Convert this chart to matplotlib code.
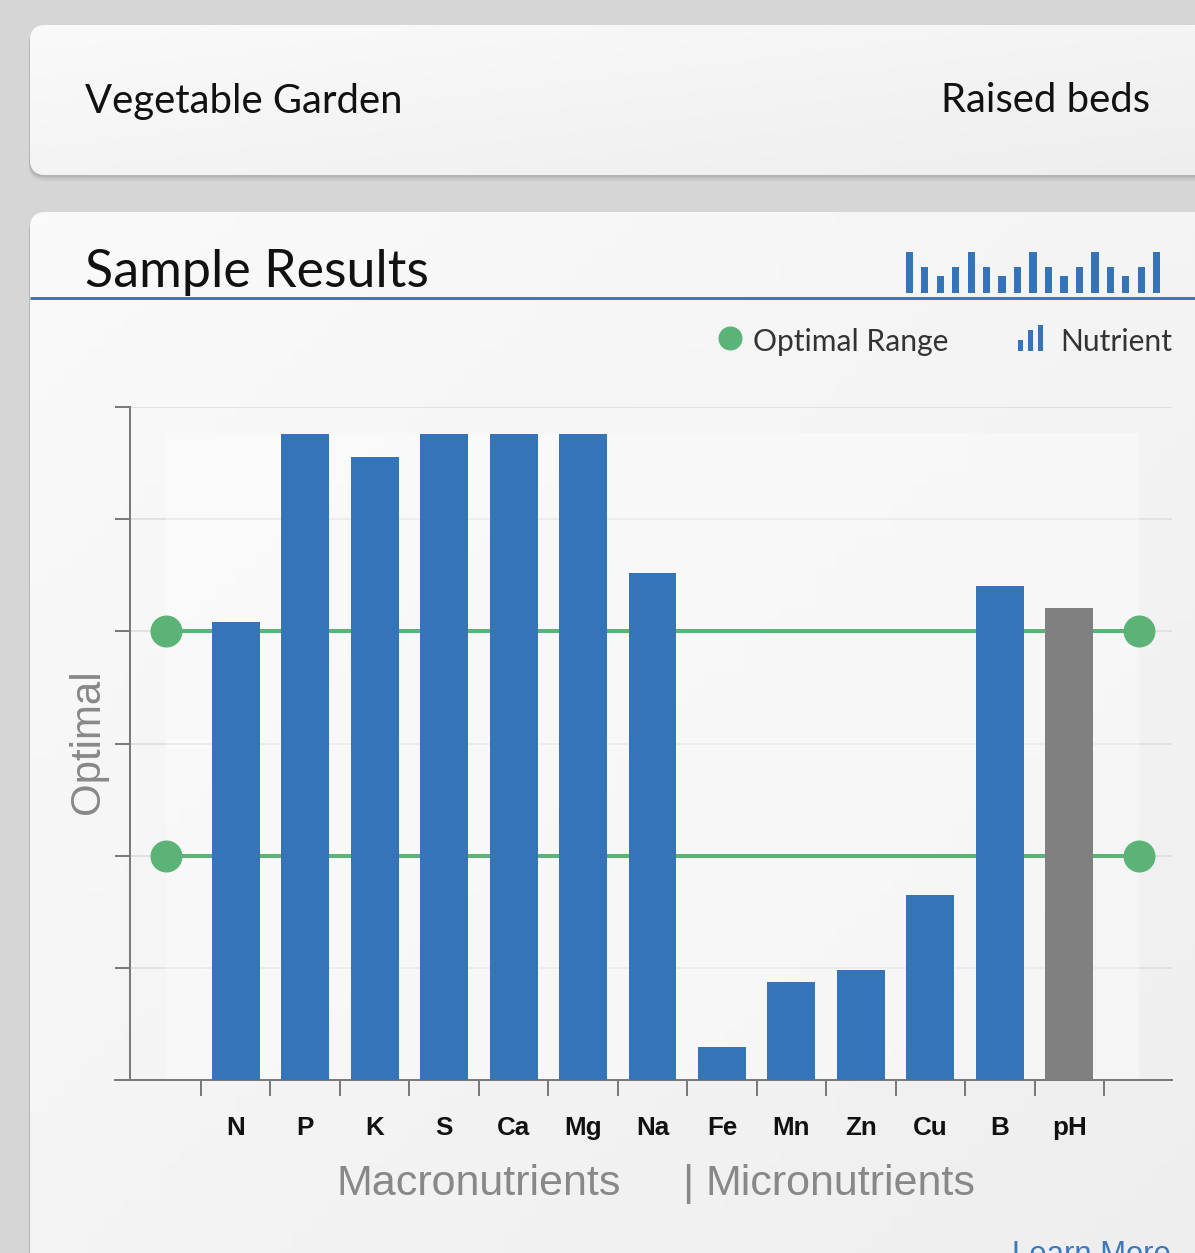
import numpy as np
import matplotlib.pyplot as plt
from matplotlib.patches import FancyBboxPatch, Rectangle
from matplotlib.colors import LinearSegmentedColormap

W, H = 1195, 1253

# data
nutrients = ['N', 'P', 'K', 'S', 'Ca', 'Mg', 'Na', 'Fe', 'Mn', 'Zn', 'Cu', 'B', 'pH']
levels = [4.08, 5.76, 5.55, 5.76, 5.76, 5.76, 4.52, 0.29, 0.87, 0.98, 1.65, 4.40, 4.21]
optimal_low = 2
optimal_high = 4
icon_heights = [41, 26, 17, 26, 41, 26, 17, 26, 41, 26, 17, 26, 41, 26, 17, 26, 41]
legend_icon_heights = [11, 21, 26]

BLUE = '#3574b8'
GREY_BAR = '#808080'
GREEN = '#5cb377'
AXIS = '#7a7a7a'

HEAD_FONT = ['Lato', 'DejaVu Sans']
CHART_FONT = ['Liberation Sans', 'DejaVu Sans']


def px(v):
    # pixels -> points at dpi 100
    return v * 0.72


fig = plt.figure(figsize=(W / 100, H / 100), dpi=100)
fig.patch.set_facecolor('#d6d6d6')

bg = fig.add_axes([0, 0, 1, 1])
bg.set_xlim(0, W)
bg.set_ylim(H, 0)
bg.axis('off')

## cards with a soft shadow
card_cmap = LinearSegmentedColormap.from_list('card', ['#fafafa', '#eeeeee'])
gx, gy = np.meshgrid(np.linspace(0, 1, 64), np.linspace(0, 1, 64))
grad = 0.5 * gx + 0.5 * gy
for (x0, y0, x1, y1) in [(30, 25, 1230, 175), (30, 212, 1230, 1300)]:
    for k, a in [(6, 0.10), (4, 0.15), (2, 0.20)]:
        sh = FancyBboxPatch((x0 - 1, y0 + k), x1 - x0, y1 - y0,
                            boxstyle='round,pad=0,rounding_size=16',
                            fc='#808080', ec='none', alpha=a, zorder=1)
        bg.add_patch(sh)
    card = FancyBboxPatch((x0, y0), x1 - x0, y1 - y0,
                          boxstyle='round,pad=0,rounding_size=16',
                          fc='#f4f4f4', ec='none', zorder=2)
    bg.add_patch(card)
    im = bg.imshow(grad, cmap=card_cmap, vmin=0, vmax=1,
                   extent=(x0, x1, y1, y0), aspect='auto', zorder=3)
    im.set_clip_path(card)

bg.text(85, 101, 'Vegetable Garden', fontsize=px(40), family=HEAD_FONT,
        color='#111111', va='center', ha='left', zorder=5)
bg.text(1150, 101, 'Raised beds', fontsize=px(40), family=HEAD_FONT,
        color='#111111', va='center', ha='right', zorder=5)
bg.text(85, 287, 'Sample Results', fontsize=px(52), family=HEAD_FONT,
        color='#111111', va='baseline', ha='left', zorder=5)
bg.plot([30, W], [298, 298], color='#3a78c0', lw=px(3), zorder=5,
        solid_capstyle='butt')

## legend
bg.scatter([730], [338], s=px(24) ** 2, color=GREEN, zorder=5, lw=0)
bg.text(753, 342, 'Optimal Range', fontsize=px(30), family=HEAD_FONT,
        color='#333333', va='center', ha='left', zorder=5)
bg.text(1060, 342, 'Nutrient', fontsize=px(30), family=HEAD_FONT,
        color='#333333', va='center', ha='left', zorder=5)

leg_ax = fig.add_axes([1015 / W, 1 - 351 / H, 30 / W, 26 / H])
leg_ax.bar(range(len(legend_icon_heights)), legend_icon_heights, width=0.5, color=BLUE)
leg_ax.set_xlim(-0.5, 2.5)
leg_ax.set_ylim(0, 26)
leg_ax.axis('off')

## header icon
ic_ax = fig.add_axes([902 / W, 1 - 293 / H, 262 / W, 41 / H])
ic_ax.bar(range(len(icon_heights)), icon_heights, width=0.46, color=BLUE)
ic_ax.set_xlim(-0.46, len(icon_heights) - 0.54)
ic_ax.set_ylim(0, 41)
ic_ax.axis('off')

## main chart
ax = fig.add_axes([130 / W, 1 - 1080 / H, (1172 - 130) / W, (1080 - 407) / H])
ax.set_facecolor('none')
xs = np.arange(len(nutrients))
ax.set_xlim(-1.522, 13.479)
ax.set_ylim(0, 6)

ax.set_yticks(range(0, 7))
ax.set_yticklabels([])
ax.yaxis.grid(True, color='#dcdcdc', lw=px(1.5), zorder=0)
ax.set_axisbelow(True)
ax.tick_params(axis='y', length=px(15), width=px(2), color=AXIS, direction='out')

ax.set_xticks(np.arange(-0.5, len(nutrients) + 0.5, 1))
ax.set_xticklabels([])
ax.set_xticks(xs, minor=True)
ax.set_xticklabels(nutrients, minor=True, fontsize=px(26), fontweight='bold',
                   family=CHART_FONT, color='#111111')
ax.tick_params(axis='x', which='major', length=px(16), width=px(2), color=AXIS,
               direction='out')
ax.tick_params(axis='x', which='minor', length=0, pad=px(36))

for s in ['top', 'right']:
    ax.spines[s].set_visible(False)
ax.spines['left'].set_color(AXIS)
ax.spines['left'].set_linewidth(px(2))
ax.spines['bottom'].set_color(AXIS)
ax.spines['bottom'].set_linewidth(px(2))
ax.spines['bottom'].set_bounds(-1.522 - 15 / 69.46, 13.479)

ax.add_patch(Rectangle((-1, 0), 14, 5.77, fc='white', ec='none', alpha=0.4, zorder=1))

for yv in [optimal_high, optimal_low]:
    ax.plot([-1, 13], [yv, yv], color=GREEN, lw=px(4), zorder=2)
    ax.plot([-1, 13], [yv, yv], 'o', color=GREEN, ms=px(32), mew=0, zorder=4)

colors = [BLUE] * (len(nutrients) - 1) + [GREY_BAR]
ax.bar(xs, levels, width=0.69, color=colors, zorder=3)

bg.text(88, 742, 'Optimal', rotation=90, fontsize=px(42), family=CHART_FONT,
        color='#888888', va='center', ha='center', zorder=5)
bg.text(337, 1184, 'Macronutrients', fontsize=px(43), family=CHART_FONT,
        color='#888888', va='center', ha='left', zorder=5)
bg.text(682, 1184, '|', fontsize=px(43), family=CHART_FONT,
        color='#888888', va='center', ha='left', zorder=5)
bg.text(706, 1184, 'Micronutrients', fontsize=px(43), family=CHART_FONT,
        color='#888888', va='center', ha='left', zorder=5)
bg.text(1012, 1263, 'Learn More', fontsize=px(31), family=CHART_FONT,
        color='#3a78c0', va='baseline', ha='left', zorder=5)

fig.savefig('out.png', dpi=100, facecolor=fig.get_facecolor())
